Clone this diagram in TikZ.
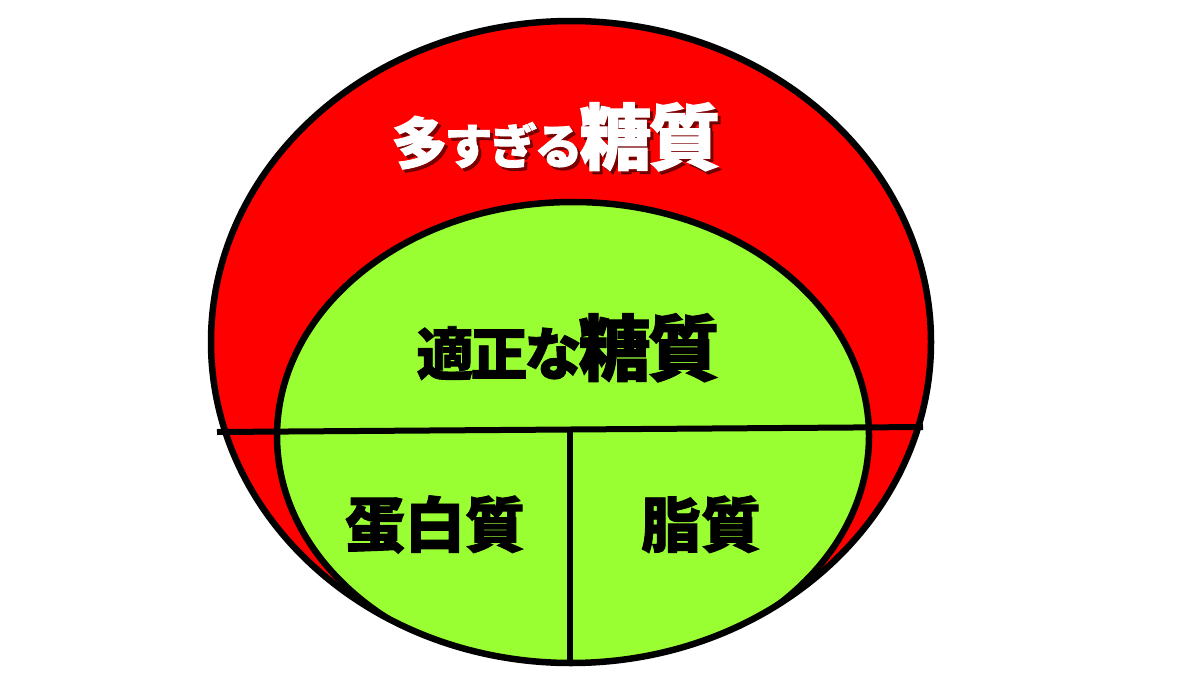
\documentclass[tikz,border=0pt]{standalone}
\usepackage{fontspec}
\newfontfamily\jp{Noto Sans CJK JP}[BoldFeatures={FakeBold=1.6}]
\definecolor{redfill}{RGB}{255,0,0}
\definecolor{greenfill}{RGB}{153,255,51}
\definecolor{shadowc}{RGB}{70,0,0}
\newcommand\tk{\kern-3pt}
\begin{document}
\begin{tikzpicture}[x=1pt,y=-1pt,
  border/.style={line width=6.5pt, draw=black},
  divider/.style={line width=6pt, draw=black},
  lab/.style={font=\jp\bfseries, anchor=base, inner sep=0pt},
  whitelab/.style={lab, text=white},
  shadowlab/.style={lab, text=shadowc, opacity=0.7},
  blacklab/.style={lab, text=black},
]
\fill[white] (0,0) rectangle (1200,675);
% outer region
\fill[redfill] (571,342) ellipse [x radius=360, y radius=321];
\begin{scope}
  \clip (571,342) ellipse [x radius=360, y radius=321];
  \filldraw[fill=greenfill, border] (573,436) ellipse [x radius=296, y radius=234];
\end{scope}
% dividers
\coordinate (hl) at (217,432);
\coordinate (hr) at (923,427);
\draw[divider] (hl) -- (hr);
\coordinate (vt) at (570,430);
\coordinate (vb) at (570,660);
\draw[divider] (vt) -- (vb);
% outer border
\draw[border] (571,342) ellipse [x radius=360, y radius=321];
% labels
\newcommand\toomuch{{\fontsize{56}{56}\selectfont 多}\tk{\fontsize{48}{48}\selectfont す\tk ぎ\tk る}\tk{\fontsize{72}{72}\selectfont 糖\tk 質}}
\node[shadowlab] (t1s) at (559,167) {\toomuch};
\node[whitelab] (t1) at (556,164) {\toomuch};
\node[blacklab] (t2) at (568,375) {{\fontsize{57}{57}\selectfont 適\tk 正\tk な}\tk{\fontsize{72}{72}\selectfont 糖\tk 質}};
\node[blacklab] (t3) at (435,547) {\fontsize{60}{60}\selectfont 蛋白質};
\node[blacklab] (t4) at (701,547) {\fontsize{60}{60}\selectfont 脂質};
\end{tikzpicture}
\end{document}
